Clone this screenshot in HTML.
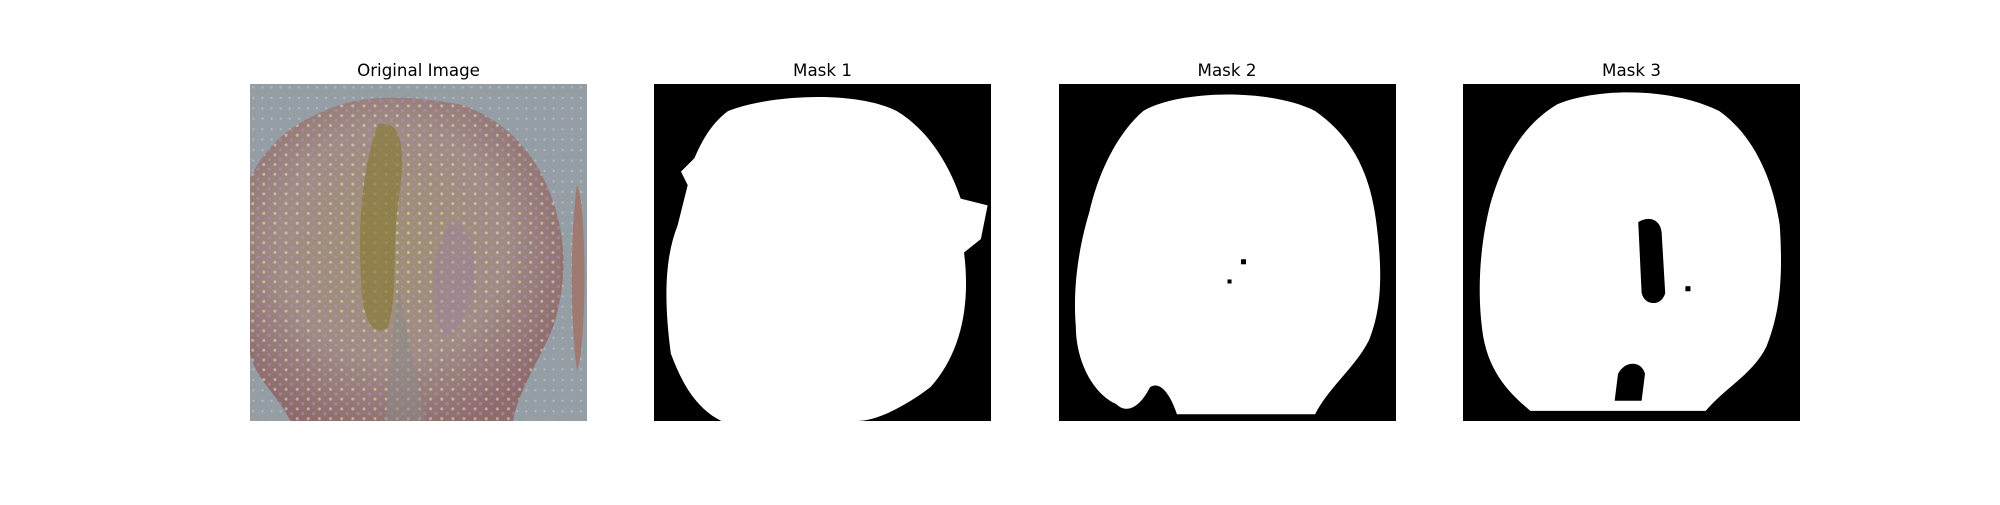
<!DOCTYPE html>
<html><head><meta charset="utf-8"><style>
html,body{margin:0;padding:0;background:#fff;}
svg text{font-family:"DejaVu Sans","Liberation Sans",sans-serif;font-size:16.7px;fill:#000;}
</style></head><body>
<svg width="2000" height="500" viewBox="0 0 2000 500">
<defs>
<radialGradient id="blobg" cx="45%" cy="45%" r="60%">
<stop offset="0" stop-color="#9e9070"/><stop offset="0.6" stop-color="#a08c84"/><stop offset="1" stop-color="#8e6c6c"/>
</radialGradient>
<pattern id="speck" width="3.3" height="2.9" patternUnits="userSpaceOnUse">
<circle cx="0.8" cy="0.7" r="0.45" fill="#e8e0da" opacity="0.55"/><circle cx="2.4" cy="2.1" r="0.5" fill="#b490c4" opacity="0.5"/>
</pattern>
<pattern id="bgspeck" width="2.7" height="3.1" patternUnits="userSpaceOnUse">
<circle cx="1" cy="1" r="0.35" fill="#c8ccd0" opacity="0.6"/>
</pattern>
</defs>

<g>
<text x="418.5" y="76" text-anchor="middle">Original Image</text>
<svg x="250" y="84" width="337" height="337" viewBox="0 0 100 100" preserveAspectRatio="none">
<rect width="100" height="100" fill="#949ea4"/>
<rect width="100" height="100" fill="url(#bgspeck)"/>
<path d="M22,8 C35,2 50,4 62,6 C75,10 85,20 90,35 C95,50 93,62 90,72 C86,82 80,90 78,100 L12,100 C8,92 2,88 0,80 L0,28 C5,18 12,12 22,8 Z" fill="url(#blobg)"/>
<path d="M22,8 C35,2 50,4 62,6 C75,10 85,20 90,35 C95,50 93,62 90,72 C86,82 80,90 78,100 L12,100 C8,92 2,88 0,80 L0,28 C5,18 12,12 22,8 Z" fill="url(#speck)"/>
<path d="M38,12 C46,10 46,22 44,35 C42,50 44,62 41,72 C37,76 33,70 33,58 C32,45 33,25 38,12 Z" fill="#8a7a3a" opacity="0.7"/>
<path d="M44,60 L52,100 L40,100 Z" fill="#8a8a88" opacity="0.5"/>
<path d="M60,40 C70,45 68,70 58,75 C52,65 54,48 60,40 Z" fill="#9a80a0" opacity="0.4"/>
<path d="M97,30 C100,35 100,78 97,85 C95,70 95,45 97,30 Z" fill="#a07a70"/>
</svg>
</g>

<g>
<text x="822.5" y="76" text-anchor="middle">Mask 1</text>
<svg x="654" y="84" width="337" height="337" viewBox="0 0 100 100" preserveAspectRatio="none">
<rect width="100" height="100" fill="#000"/>
<path d="M22,8 C35,3 60,2 72,8 C82,14 88,25 91,34 L99,36 L97,46 L92,50 C94,66 91,80 82,90 C74,96 66,100 60,100 L20,100 C12,96 8,88 5,80 C3,65 3,52 7,42 L10,30 L8,26 L12,22 C15,15 18,11 22,8 Z" fill="#fff"/>
</svg>
</g>

<g>
<text x="1227" y="76" text-anchor="middle">Mask 2</text>
<svg x="1059" y="84" width="337" height="337" viewBox="0 0 100 100" preserveAspectRatio="none">
<rect width="100" height="100" fill="#000"/>
<path d="M25,8 C35,2 62,1 76,8 C86,15 92,25 94,40 C96,55 96,66 92,76 C88,84 80,90 76,98 L35,98 C33,92 30,88 27,90 C24,96 20,98 17,95 C10,92 5,82 5,72 C4,60 6,48 9,38 C12,25 18,14 25,8 Z" fill="#fff"/>
<rect x="54" y="52" width="1.5" height="1.5" fill="#000"/>
<rect x="50" y="58" width="1.2" height="1.2" fill="#000"/>
</svg>
</g>

<g>
<text x="1631.5" y="76" text-anchor="middle">Mask 3</text>
<svg x="1463" y="84" width="337" height="337" viewBox="0 0 100 100" preserveAspectRatio="none">
<rect width="100" height="100" fill="#000"/>
<path d="M28,6 C40,1 62,1 76,8 C86,15 92,28 94,42 C95,58 94,68 90,78 C86,86 78,90 72,97 L20,97 C14,92 8,86 6,75 C4,62 5,48 8,36 C12,22 18,12 28,6 Z" fill="#fff"/>
<path d="M52,41 C55,39 59,40 59,45 L60,62 C59,66 54,66 53,62 Z" fill="#000"/>
<path d="M46,86 C48,82 53,82 54,86 L53,94 L45,94 Z" fill="#000"/>
<rect x="66" y="60" width="1.5" height="1.5" fill="#000"/>
</svg>
</g>
</svg>
</body></html>
